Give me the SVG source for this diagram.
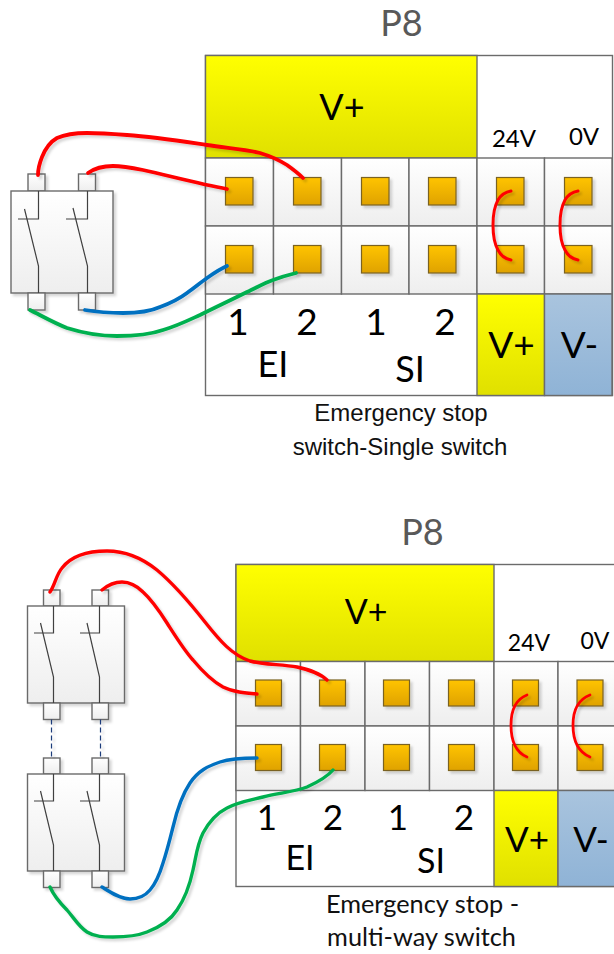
<svg xmlns="http://www.w3.org/2000/svg" width="614" height="954" viewBox="0 0 614 954">
<defs>
<linearGradient id="gy" x1="0" y1="0" x2="0" y2="1"><stop offset="0" stop-color="#ffff00"/><stop offset="1" stop-color="#e0e000"/></linearGradient>
<linearGradient id="gb" x1="0" y1="0" x2="0" y2="1"><stop offset="0" stop-color="#a9c4de"/><stop offset="1" stop-color="#8fb3d6"/></linearGradient>
<linearGradient id="gc" x1="0" y1="0" x2="0" y2="1"><stop offset="0" stop-color="#ffffff"/><stop offset="1" stop-color="#eeeeee"/></linearGradient>
<linearGradient id="go" x1="0" y1="0" x2="0" y2="1"><stop offset="0" stop-color="#ffc400"/><stop offset="1" stop-color="#dfa200"/></linearGradient>
<filter id="sh" x="-20%" y="-20%" width="150%" height="150%"><feDropShadow dx="2.5" dy="2.5" stdDeviation="1.2" flood-color="#000" flood-opacity="0.16"/></filter>
<filter id="shw" x="0" y="0" width="614" height="954" filterUnits="userSpaceOnUse"><feDropShadow dx="2.5" dy="2.5" stdDeviation="1" flood-color="#000" flood-opacity="0.16"/></filter>
</defs>
<style>
text{font-family:"Lato","Open Sans","Liberation Sans",sans-serif;fill:#000;text-anchor:middle}
.t{fill:#595959;font-size:36px}
.c{font-family:"Liberation Sans",Arial,sans-serif;font-size:24px;fill:#111}
.e{font-size:25.3px;fill:#111}
.cell{fill:url(#gc);stroke:#6b6b6b;stroke-width:1.4}
.plain{fill:#fff;stroke:#6b6b6b;stroke-width:1.4}
.yel{fill:url(#gy);stroke:#6b6b6b;stroke-width:1.4}
.blu{fill:url(#gb);stroke:#6b6b6b;stroke-width:1.4}
.sq{fill:url(#go);stroke:#7a6222;stroke-width:1.2;filter:url(#sh)}
.b{fill:url(#gc);stroke:#6b6b6b;stroke-width:1.4;filter:url(#sh)}
.i{fill:none;stroke:#404040;stroke-width:1.2}
.w{fill:none;stroke-linecap:round}
.r{stroke:#ff0000}.bl{stroke:#0070c0}.g{stroke:#00b050}
.d{fill:none;stroke:#1f3b7a;stroke-width:1.2;stroke-dasharray:5 3}
</style>

<g id="title-top"><text class="t" x="401.5" y="35.6">P8</text></g>
<g id="panel-top">
<rect class="plain" x="205.5" y="55.5" width="407" height="340"/>
<rect class="yel" x="205.5" y="55.5" width="271.5" height="102.5"/>
<rect class="cell" x="205.5" y="158" width="68" height="68"/><rect class="cell" x="273.5" y="158" width="68" height="68"/><rect class="cell" x="341.5" y="158" width="67.5" height="68"/><rect class="cell" x="409" y="158" width="68" height="68"/><rect class="cell" x="477" y="158" width="67.5" height="68"/><rect class="cell" x="544.5" y="158" width="67.5" height="68"/>
<rect class="cell" x="205.5" y="226" width="68" height="68"/><rect class="cell" x="273.5" y="226" width="68" height="68"/><rect class="cell" x="341.5" y="226" width="67.5" height="68"/><rect class="cell" x="409" y="226" width="68" height="68"/><rect class="cell" x="477" y="226" width="67.5" height="68"/><rect class="cell" x="544.5" y="226" width="67.5" height="68"/>
<rect class="yel" x="477" y="294" width="67.5" height="101.5"/><rect class="blu" x="544.5" y="294" width="67.5" height="101.5"/>
<rect class="sq" x="225.5" y="177.5" width="27.5" height="27.5"/><rect class="sq" x="293.5" y="177.5" width="27.5" height="27.5"/><rect class="sq" x="361.5" y="177.5" width="27.5" height="27.5"/><rect class="sq" x="428.5" y="177.5" width="27.5" height="27.5"/><rect class="sq" x="496.5" y="177.5" width="27.5" height="27.5"/><rect class="sq" x="564.5" y="177.5" width="27.5" height="27.5"/>
<rect class="sq" x="225.5" y="245.5" width="27.5" height="27.5"/><rect class="sq" x="293.5" y="245.5" width="27.5" height="27.5"/><rect class="sq" x="361.5" y="245.5" width="27.5" height="27.5"/><rect class="sq" x="428.5" y="245.5" width="27.5" height="27.5"/><rect class="sq" x="496.5" y="245.5" width="27.5" height="27.5"/><rect class="sq" x="564.5" y="245.5" width="27.5" height="27.5"/>
<text x="342" y="120" font-size="36">V+</text>
<text x="514" y="147" font-size="24">24V</text>
<text x="584" y="145" font-size="24">0V</text>
<text x="238" y="335" font-size="37">1</text><text x="307" y="335" font-size="37">2</text><text x="376" y="335" font-size="37">1</text><text x="445" y="335" font-size="37">2</text>
<text x="273" y="377" font-size="36">EI</text><text x="410" y="382" font-size="36">SI</text>
<text x="511.5" y="358" font-size="37">V+</text><text x="579.5" y="358" font-size="37">V-</text>
<text class="c" x="401" y="421">Emergency stop</text>
<text class="c" x="400" y="455">switch-Single switch</text>
</g>
<g id="switch-top">
<rect class="b" x="28" y="174" width="17" height="17"/><rect class="b" x="78.5" y="174" width="17" height="17"/>
<rect class="b" x="11" y="191" width="102" height="102"/>
<rect class="b" x="28" y="293" width="17" height="17"/><rect class="b" x="78.5" y="293" width="17" height="17"/>
<path class="i" d="M38.5 191V219H18M24.5 209L38.5 266V293M87.5 191V219H66M73 208L87.5 266V293"/>
</g>

<g id="title-bottom"><text class="t" x="422.5" y="545">P8</text></g>
<g id="panel-bottom">
<rect class="plain" x="236" y="564.5" width="386" height="322"/>
<rect class="yel" x="236" y="564.5" width="258" height="97"/>
<rect class="cell" x="236" y="661.5" width="64.5" height="64.5"/><rect class="cell" x="300.5" y="661.5" width="64.5" height="64.5"/><rect class="cell" x="365" y="661.5" width="64.5" height="64.5"/><rect class="cell" x="429.5" y="661.5" width="64.5" height="64.5"/><rect class="cell" x="494" y="661.5" width="64" height="64.5"/><rect class="cell" x="558" y="661.5" width="64" height="64.5"/>
<rect class="cell" x="236" y="726" width="64.5" height="64.5"/><rect class="cell" x="300.5" y="726" width="64.5" height="64.5"/><rect class="cell" x="365" y="726" width="64.5" height="64.5"/><rect class="cell" x="429.5" y="726" width="64.5" height="64.5"/><rect class="cell" x="494" y="726" width="64" height="64.5"/><rect class="cell" x="558" y="726" width="64" height="64.5"/>
<rect class="yel" x="494" y="790.5" width="64" height="96"/><rect class="blu" x="558" y="790.5" width="64" height="96"/>
<rect class="sq" x="255.5" y="680" width="26" height="26"/><rect class="sq" x="319.5" y="680" width="26" height="26"/><rect class="sq" x="383.5" y="680" width="26" height="26"/><rect class="sq" x="448.5" y="680" width="26" height="26"/><rect class="sq" x="512.5" y="680" width="26" height="26"/><rect class="sq" x="577" y="680" width="26" height="26"/>
<rect class="sq" x="255.5" y="744.5" width="26" height="26"/><rect class="sq" x="319.5" y="744.5" width="26" height="26"/><rect class="sq" x="383.5" y="744.5" width="26" height="26"/><rect class="sq" x="448.5" y="744.5" width="26" height="26"/><rect class="sq" x="512.5" y="744.5" width="26" height="26"/><rect class="sq" x="577" y="744.5" width="26" height="26"/>
<text x="366" y="624" font-size="34">V+</text>
<text x="529" y="651" font-size="23">24V</text>
<text x="595" y="649" font-size="23">0V</text>
<text x="267" y="830" font-size="35">1</text><text x="333" y="830" font-size="35">2</text><text x="398" y="830" font-size="35">1</text><text x="464" y="830" font-size="35">2</text>
<text x="300" y="870" font-size="34">EI</text><text x="431" y="873" font-size="34">SI</text>
<text x="527" y="852" font-size="35">V+</text><text x="591" y="852" font-size="35">V-</text>
<text class="e" x="422.5" y="913">Emergency stop -</text>
<text class="e" x="421.5" y="946">multi-way switch</text>
</g>
<g id="switch-bottom-1">
<rect class="b" x="43.5" y="590" width="16.5" height="16"/><rect class="b" x="92" y="590" width="16.5" height="16"/>
<rect class="b" x="27.5" y="606" width="97" height="97"/>
<rect class="b" x="43.5" y="703" width="16.5" height="16.5"/><rect class="b" x="92" y="703" width="16.5" height="16.5"/>
<path class="i" d="M53.5 606V633H34M40.5 623L53.5 677V703M99.5 606V633H80M87 623L99.5 677V703"/>
</g>
<g id="switch-bottom-2">
<rect class="b" x="43.5" y="758" width="16.5" height="16"/><rect class="b" x="92" y="758" width="16.5" height="16"/>
<rect class="b" x="27.5" y="774" width="97" height="97"/>
<rect class="b" x="43.5" y="871" width="16.5" height="16.5"/><rect class="b" x="92" y="871" width="16.5" height="16.5"/>
<path class="i" d="M53.5 774V801H34M40.5 791L53.5 845V871M99.5 774V801H80M87 791L99.5 845V871"/>
</g>

<g id="connectors" filter="url(#shw)">
<path class="d" d="M51.5 719.5V758M100.5 719.5V758"/>
<path class="w r" stroke-width="3.8" d="M38 175C38 168 40 162 42 157C46 147 50 142 57 138C66 134 76 133 87 133C100 133 114 134 127 135C155 137 180 141 207 145C225 148 244 149 260 153C270 156 279 160 287 165C294 170 299 174 303 178"/>
<path class="w r" stroke-width="3.8" d="M88 173C95 168 104 166 113 166C123 166 133 168 143 170C170 176 200 184 227 189"/>
<path class="w bl" stroke-width="3.8" d="M85 310C97 312 110 313 123 313C137 313 149 312 160 307C171 303 179 299 187 293C194 288 200 283 207 278C214 273 220 269 227 266"/>
<path class="w g" stroke-width="3.8" d="M30 310C42 316 54 323 67 328C83 333 100 336 117 336C134 336 149 335 163 330C177 326 189 320 200 315C216 307 231 300 247 292C256 288 264 283 273 280C281 277 288 275 296 273"/>
<path class="w r" stroke-width="3" d="M511 191C505 192 501 195 498 200C494 207 493 216 493 225C493 234 494 243 498 250C501 256 505 259 511 260"/>
<path class="w r" stroke-width="3" d="M578 191C572 192 568 195 565 200C561 207 560 216 560 225C560 234 561 243 565 250C568 256 572 259 578 260"/>
<path class="w r" stroke-width="3.4" d="M50 592C55 585 56 575 62 568C72 555 88 551 107 551C125 551 142 558 157 570C175 585 190 603 205 622C220 641 232 655 250 661C265 665 282 664 297 667C310 670 320 673 327 680"/>
<path class="w r" stroke-width="3.4" d="M102 590C108 585 114 582 122 582C130 582 137 586 143 592C153 601 160 612 167 623C176 637 184 650 193 660C203 672 212 681 223 687C233 692 245 693 257 694"/>
<path class="w bl" stroke-width="3.4" d="M102 887C110 892 120 899 130 899C138 899 145 896 150 890C157 882 160 873 163 863C167 851 170 839 173 827C177 810 182 795 190 783C198 771 208 766 220 762C232 758 245 758 257 758"/>
<path class="w g" stroke-width="3.4" d="M50 887C54 896 60 903 67 910C74 918 79 927 87 932C95 937 104 937 113 937C125 937 137 936 147 932C160 927 170 921 177 910C186 897 190 884 193 870C196 857 197 845 203 833C209 822 217 813 227 808C238 802 251 800 263 797C278 793 294 792 307 787C318 782 327 777 333 770"/>
<path class="w r" stroke-width="2.8" d="M527 695C514 700 511 712 511 725C511 740 515 752 527 757"/>
<path class="w r" stroke-width="2.8" d="M590 695C577 700 573 712 573 725C573 740 578 752 590 757"/>
</g>
</svg>
